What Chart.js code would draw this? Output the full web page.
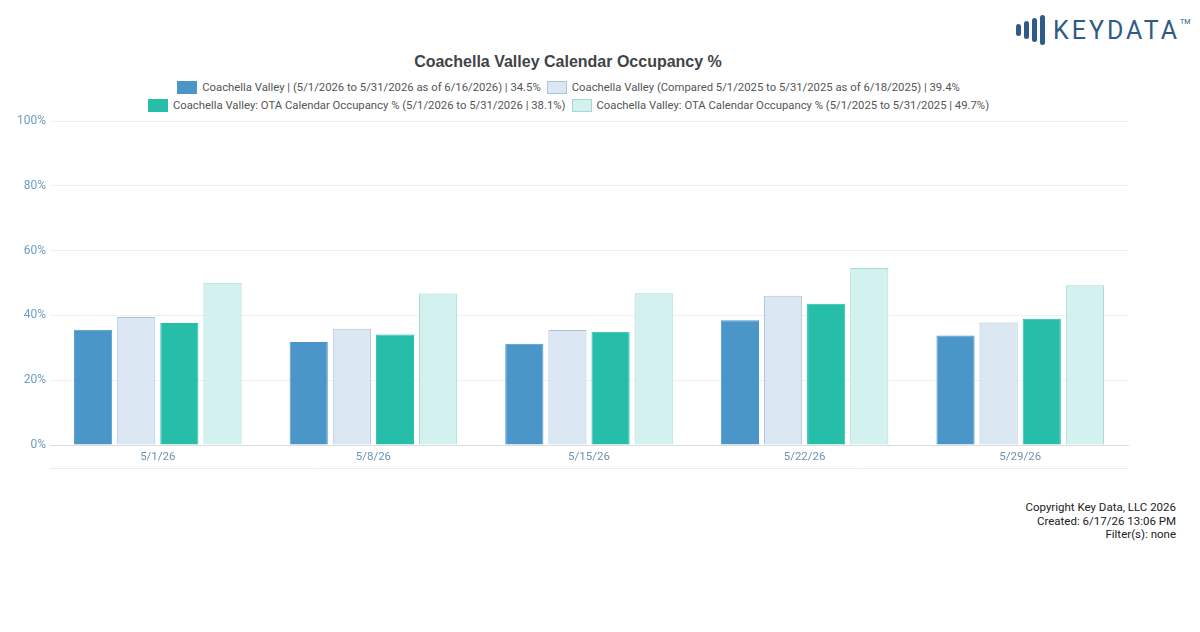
<!DOCTYPE html>
<html>
<head>
<meta charset="utf-8">
<script src="https://cdn.jsdelivr.net/npm/chart.js@4/dist/chart.umd.min.js"></script>
<style>
  html, body { margin: 0; padding: 0; background: #fff; }
  body { width: 1200px; height: 632px; position: relative; overflow: hidden; font-family: Roboto, "Liberation Sans", Arial, sans-serif; }
  .logo { position: absolute; left: 1016px; top: 15px; display: flex; align-items: center; }
  .logo .bars { display: flex; align-items: center; gap: 3px; margin-right: 8px; }
  .logo .bars span { display: block; width: 5px; border-radius: 3px; background: #2f5b86; }
  .logo .word { font-size: 25px; letter-spacing: 3px; color: #2f5b86; font-weight: 400; }
  .logo sup { font-size: 7px; letter-spacing: 0; vertical-align: top; position: relative; top: 2px; }
  .title { position: absolute; left: 0; width: 1136px; top: 53px; text-align: center; font-size: 16px; font-weight: bold; color: #3f4447; font-family: "Liberation Sans", Arial, sans-serif; }
  .legend { position: absolute; left: 0; width: 1137px; top: 78px; font-size: 11.3px; color: #555; }
  .legend .row { display: flex; justify-content: center; height: 18px; align-items: center; }
  .legend .it { display: flex; align-items: center; margin: 0 3px; }
  .legend .box { width: 20px; height: 13px; margin-right: 5px; box-sizing: border-box; }
  #wrap { position: absolute; left: 0; top: 110px; width: 1140px; height: 359px; }
  .foot { position: absolute; right: 24px; top: 501px; text-align: right; font-size: 11.5px; line-height: 13.5px; color: #222; }
</style>
</head>
<body>
<div class="logo">
  <div class="bars"><span style="height:12px"></span><span style="height:18px"></span><span style="height:24px"></span><span style="height:30px"></span></div>
  <div class="word">KEYDATA<sup>TM</sup></div>
</div>
<div class="title">Coachella Valley Calendar Occupancy %</div>
<div class="legend" id="legend"></div>
<div id="wrap"><canvas id="ch"></canvas></div>
<div class="foot">Copyright Key Data, LLC 2026<br>Created: 6/17/26 13:06 PM<br>Filter(s): none</div>
<script>
// ---- data ----
const categories = ["5/1/26", "5/8/26", "5/15/26", "5/22/26", "5/29/26"];
const seriesNames = [
  "Coachella Valley | (5/1/2026 to 5/31/2026 as of 6/16/2026) | 34.5%",
  "Coachella Valley (Compared 5/1/2025 to 5/31/2025 as of 6/18/2025) | 39.4%",
  "Coachella Valley: OTA Calendar Occupancy % (5/1/2026 to 5/31/2026 | 38.1%)",
  "Coachella Valley: OTA Calendar Occupancy % (5/1/2025 to 5/31/2025 | 49.7%)"
];
const occ2026 = [35.6, 31.8, 31.3, 38.5, 33.8];
const occ2025 = [39.5, 35.9, 35.5, 46.1, 37.8];
const ota2026 = [37.7, 34.1, 35.0, 43.6, 39.0];
const ota2025 = [50.1, 46.8, 46.9, 54.7, 49.3];
const yTicks = [0, 20, 40, 60, 80, 100];

const fills = ["#4a96c8", "#dbe8f4", "#27bea9", "#d3f1ee"];
const borders = ["#4a96c8", "#adc3d6", "#27bea9", "#a3d9d2"];

/* ---------- legend (html, two rows like the original) ---------- */
(function legend() {
  const box = document.getElementById("legend");
  const rows = [[0, 1], [2, 3]];
  box.innerHTML = rows.map((r) =>
    '<div class="row">' + r.map((i) =>
      '<div class="it"><span class="box" style="background:' + fills[i] + ';border:1px solid ' + borders[i] + '"></span>' + seriesNames[i] + '</div>'
    ).join("") + '</div>'
  ).join("");
})();

/* ---------- chart ---------- */
const bottomLine = {
  id: "bottomLine",
  afterDraw(ch) {
    const { left, right } = ch.chartArea;
    const g = ch.ctx;
    const y = ch.scales.x.bottom - 0.5;
    g.save();
    g.strokeStyle = "#ececec"; g.lineWidth = 1;
    g.beginPath(); g.moveTo(left, y); g.lineTo(right, y); g.stroke();
    g.restore();
  },
};

const values = [occ2026, occ2025, ota2026, ota2025];
new Chart(document.getElementById("ch"), {
  type: "bar",
  data: {
    labels: categories,
    datasets: values.map((v, i) => ({
      label: seriesNames[i], data: v,
      backgroundColor: fills[i], borderColor: borders[i], borderWidth: 1,
      categoryPercentage: 0.8, barPercentage: 0.885,
    })),
  },
  options: {
    responsive: true, maintainAspectRatio: false, animation: false,
    layout: { padding: { top: 10, right: 12, bottom: 0, left: 0 } },
    plugins: { legend: { display: false }, tooltip: { enabled: false } },
    scales: {
      y: {
        min: 0, max: 100,
        afterFit: (s) => { s.width = 50; },
        afterBuildTicks: (s) => { s.ticks = yTicks.map((v) => ({ value: v })); },
        grid: { color: (c) => (c.tick && c.tick.value === 0 ? "#dcdcdc" : "#f0f0f0"), drawTicks: false },
        border: { display: false },
        ticks: { padding: 4, color: "#6f9cc0", font: { size: 12, family: "Roboto, Arial" }, callback: (v) => v + "%" },
      },
      x: {
        afterFit: (s) => { s.height = 24; },
        grid: { display: false, drawTicks: false, tickLength: 0 },
        border: { color: "#dcdcdc" },
        ticks: { padding: 5, color: "#6b93b5", font: { size: 11.5, family: "Roboto, Arial" } },
      },
    },
  },
  plugins: [bottomLine],
});
</script>
</body>
</html>
